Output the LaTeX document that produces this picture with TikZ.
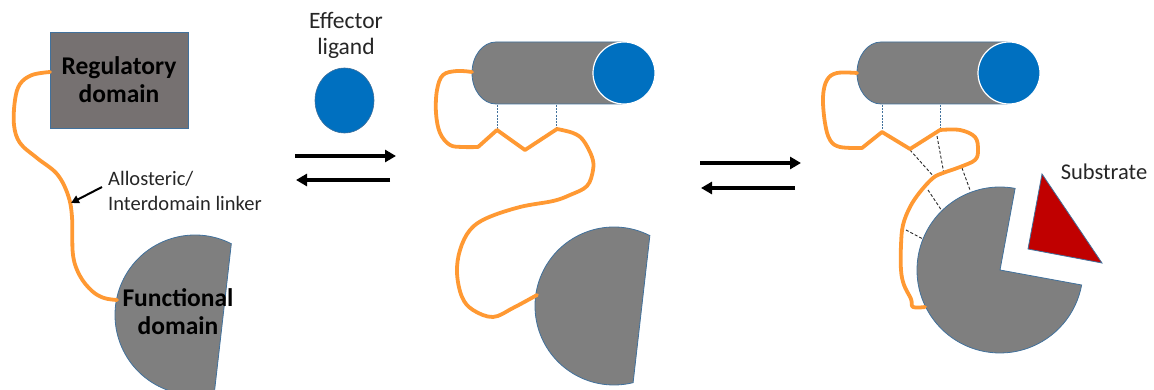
\documentclass[tikz,border=0pt]{standalone}
\usepackage{fontspec}
\setmainfont{Carlito}
\usetikzlibrary{arrows.meta,calc,shapes.geometric}
\definecolor{linkorange}{HTML}{FF9933}
\definecolor{shapeedge}{HTML}{41719C}
\definecolor{domgray}{HTML}{7F7F7F}
\definecolor{reggray}{HTML}{767171}
\definecolor{ligblue}{HTML}{0070C0}
\definecolor{subred}{HTML}{C00000}
\definecolor{labeltext}{HTML}{262626}

\begin{document}
\begin{tikzpicture}[x=1pt,y=-1pt,
  linker/.style={draw=linkorange, line width=3.8pt, line join=round, line cap=round},
  domshape/.style={fill=domgray, draw=shapeedge, line width=0.8pt},
  bond/.style={draw=shapeedge, line width=0.7pt, dash pattern=on 2pt off 1.2pt},
  contact/.style={draw=black!85, line width=0.9pt, dash pattern=on 3pt off 2pt},
  eqarrow/.style={draw=black, line width=3.3pt, -{Triangle[length=11pt,width=12pt]}},
  pointer/.style={draw=black, line width=2pt, -{Triangle[length=8pt,width=8pt]}},
  boldlabel/.style={font=\fontsize{25.5}{28}\selectfont\bfseries, align=center, text=black, inner sep=0pt},
  plainlabel/.style={text=labeltext, inner sep=0pt},
  helixcan/.pic={
    % grey helix body with rounded left end
    \path[domshape] (24,-31) -- (148,-31)
      arc[start angle=90, end angle=-90, x radius=30pt, y radius=31pt]
      -- (24,31)
      arc[start angle=270, end angle=90, x radius=24pt, y radius=31pt] -- cycle;
    % bound effector ligand at the end face
    \path[fill=ligblue, draw=white, line width=1.2pt] (152,0) circle[radius=31pt];
  }
]
\useasboundingbox (0,0) rectangle (1154,390);

% ---------------- free, inactive state ----------------
\node[draw=shapeedge, fill=reggray, line width=0.8pt, minimum width=138pt,
      minimum height=96pt, boldlabel] (reg) at (119,80) {Regulatory\\domain};

\coordinate (funcC) at (195,315);
\path[domshape] ($(funcC)+(63:80pt)$) arc[start angle=63, end angle=284, radius=80pt] -- cycle;
\node[boldlabel] (func) at (178,312) {Functional\\domain};

\coordinate (regL) at (50,72);
\coordinate (funcL) at (117,300);
\draw[linker] plot[smooth, tension=0.6] coordinates {(regL) (32,75) (20,84) (15,100) (14,125)
  (20,143) (37,158) (57,174) (68,195) (72,217) (73,255) (80,276) (92,291) (104,298) (funcL)};

\node[plainlabel, font=\fontsize{20.5}{25}\selectfont, align=left, anchor=west] (allo)
  at (108,191) {Allosteric/\\Interdomain linker};
\coordinate (alloTail) at (102,187);
\coordinate (linkPt) at (71,203);
\draw[pointer] (alloTail) -- (linkPt);

% ---------------- effector ligand ----------------
\node[plainlabel, font=\fontsize{23.5}{26}\selectfont, align=center] (eff) at (346,35) {Effector\\ligand};
\node[ellipse, draw=shapeedge, fill=ligblue, line width=0.6pt, minimum width=59pt,
      minimum height=65pt, inner sep=0pt] (lig) at (344.5,100.5) {};

\coordinate (e1s) at (295,156);
\coordinate (e1e) at (396,156);
\coordinate (e2s) at (390,180);
\coordinate (e2e) at (296,180);
\draw[eqarrow] (e1s) -- (e1e);
\draw[eqarrow] (e2s) -- (e2e);

% ---------------- ligand-bound state ----------------
\pic at (472,73) {helixcan};
\coordinate (midC) at (614,306);
\path[domshape] ($(midC)+(63:79pt)$) arc[start angle=63, end angle=284, radius=79pt] -- cycle;

\draw[bond] (497,105) -- (497,130);
\draw[bond] (556,105) -- (556,129);

\coordinate (cylMl) at (472,72);
\coordinate (midL) at (537,295);
\draw[linker] plot[smooth, tension=0.6] coordinates {(cylMl) (457,71) (443,75) (437,90) (436,113)
  (440,133) (450,145) (463,147) (478,147)}
  -- (497,130) -- (525,150) -- (557,129)
  -- plot[smooth, tension=0.6] coordinates {(557,129) (573,133) (583,140) (592,157) (593,170)
  (587,186) (570,195) (553,201) (520,207) (487,218) (470,230) (460,250) (457,273) (462,297)
  (473,310) (493,317) (513,308) (midL)};

\coordinate (f1s) at (700,163);
\coordinate (f1e) at (801,163);
\coordinate (f2s) at (795,188);
\coordinate (f2e) at (701,188);
\draw[eqarrow] (f1s) -- (f1e);
\draw[eqarrow] (f2s) -- (f2e);

% ---------------- active state with substrate ----------------
\pic at (857,73) {helixcan};
\coordinate (pieC) at (1000,270);
\path[domshape] (pieC) -- ($(pieC)+(79.5:83pt)$)
  arc[start angle=79.5, end angle=349.6, radius=83pt] -- cycle;

\path[fill=subred, draw=shapeedge, line width=0.8pt] (1042,174) -- (1028,249) -- (1102,263) -- cycle;
\node[plainlabel, font=\fontsize{22.5}{26}\selectfont] (sub) at (1104,172) {Substrate};

\draw[bond] (882,105) -- (882,132);
\draw[bond] (940,105) -- (940,130);

\draw[contact] (910,150) -- (935,178);
\draw[contact] (937,136) -- (944,174);
\draw[contact] (962,168) -- (970,190);
\draw[contact] (928,190) -- (942,211);
\draw[contact] (906,230) -- (923,239);

\coordinate (cylRl) at (857,73);
\coordinate (pieL) at (925,307);
\draw[linker] plot[smooth, tension=0.6] coordinates {(cylRl) (837,73) (827,80) (823,97) (825,123)
  (830,140) (840,147) (862,148)}
  -- (882,132) -- (910,149) -- (940,130)
  -- plot[smooth, tension=0.6] coordinates {(940,130) (960,130) (975,137) (978,150) (975,160)
  (960,167) (943,173) (933,178) (920,192) (910,207) (903,225) (901,245) (901,270) (904,285)
  (911,299) (913,307) (pieL)};

\end{tikzpicture}
\end{document}
